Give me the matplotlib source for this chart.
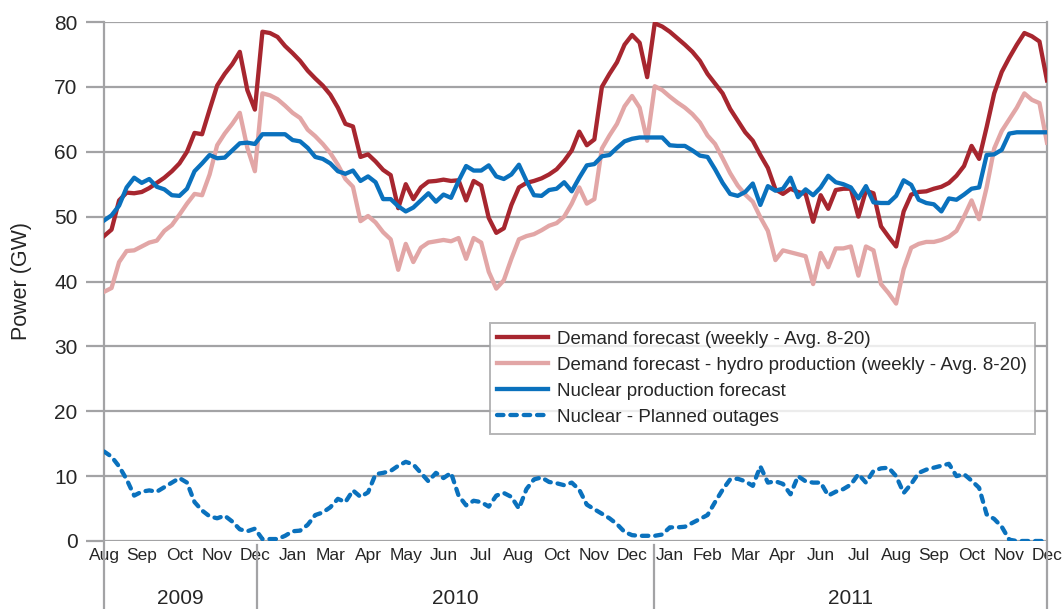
import numpy as np
import matplotlib
matplotlib.use("Agg")
import matplotlib.pyplot as plt
from matplotlib.lines import Line2D
import matplotlib.transforms as mtransforms

plt.rcParams['font.family'] = ['Liberation Sans', 'DejaVu Sans']

# weekly values, Aug 2009 -> Dec 2011 (GW)
demand = [
    47.0, 48.0, 52.5, 53.7, 53.6, 53.8, 54.4, 55.2, 56.0, 57.0,
    58.2, 60.0, 62.9, 62.7, 66.5, 70.2, 72.0, 73.5, 75.4, 69.5,
    66.5, 78.5, 78.3, 77.7, 76.3, 75.2, 74.0, 72.5, 71.3, 70.2,
    68.8, 66.8, 64.3, 63.9, 59.2, 59.6, 58.5, 57.2, 56.4, 51.3,
    55.0, 52.7, 54.5, 55.4, 55.5, 55.7, 55.5, 55.6, 52.5, 55.5,
    54.8, 49.8, 47.5, 48.2, 51.8, 54.5, 55.2, 55.5, 55.9, 56.5,
    57.3, 58.6, 60.2, 63.1, 61.0, 61.9, 70.0, 72.0, 73.8, 76.5,
    78.0, 76.8, 71.5, 79.8, 79.3, 78.5, 77.5, 76.5, 75.4, 74.0,
    72.0, 70.5, 69.0, 66.6, 64.8, 63.0, 61.7, 59.5, 57.5, 54.2,
    53.5, 54.3, 53.8, 53.5, 49.2, 53.3, 51.2, 54.1, 54.3, 54.3,
    50.0, 54.0, 53.6, 48.5, 46.9, 45.4, 50.8, 53.4, 53.8, 53.9,
    54.3, 54.6, 55.2, 56.3, 57.8, 60.9, 58.9, 63.8, 69.0, 72.3,
    74.5, 76.5, 78.3, 77.8, 77.0, 71.0,
]

demand_minus_hydro = [
    38.4, 39.0, 43.0, 44.7, 44.8, 45.4, 46.0, 46.3, 47.8, 48.7,
    50.3, 52.0, 53.5, 53.3, 56.5, 61.0, 62.8, 64.3, 66.0, 60.6,
    57.0, 69.0, 68.7, 68.1, 67.1, 66.0, 65.2, 63.4, 62.4, 61.2,
    59.8, 58.0, 55.8, 54.6, 49.3, 50.1, 49.1, 47.6, 46.5, 41.8,
    45.8, 43.0, 45.2, 46.0, 46.2, 46.4, 46.2, 46.7, 43.5, 46.7,
    46.0, 41.5, 38.9, 40.2, 43.5, 46.5, 47.0, 47.3, 47.9, 48.6,
    49.0, 50.0, 52.0, 54.5, 52.0, 52.7, 60.5, 62.5, 64.3, 67.0,
    68.6, 66.8, 61.7, 70.1, 69.5, 68.5, 67.6, 66.8, 65.8, 64.5,
    62.5, 61.2, 59.0, 56.7, 54.8, 53.4, 52.3, 49.9, 47.8, 43.3,
    44.8, 44.5, 44.2, 43.9, 39.6, 44.4, 42.2, 45.1, 45.1, 45.4,
    40.9, 45.4, 44.8, 39.6, 38.2, 36.6, 41.9, 45.2, 45.8, 46.1,
    46.1, 46.4, 46.9, 47.8, 50.0, 52.5, 49.6, 54.5, 60.5, 63.2,
    65.0, 66.8, 69.0, 68.0, 67.5, 61.4,
]

nuclear = [
    49.4, 50.2, 51.7, 54.5, 56.0, 55.2, 55.8, 54.6, 54.2, 53.3,
    53.2, 54.3, 57.0, 58.2, 59.5, 59.0, 59.1, 60.2, 61.3, 61.4,
    61.2, 62.7, 62.7, 62.7, 62.7, 61.8, 61.6, 60.6, 59.2, 58.9,
    58.2, 57.0, 56.6, 57.1, 55.5, 56.2, 55.3, 52.7, 52.7, 51.6,
    50.8, 51.4, 52.5, 53.6, 52.3, 53.4, 52.9, 55.5, 57.8, 57.1,
    57.1, 57.9, 56.2, 55.8, 56.5, 58.0, 55.5, 53.3, 53.2, 54.1,
    54.3, 55.3, 53.9, 56.0, 57.9, 58.1, 59.3, 59.5, 60.6, 61.6,
    62.0, 62.2, 62.2, 62.2, 62.2, 61.0, 60.9, 60.9, 60.2, 59.4,
    59.2, 57.3, 55.2, 53.5, 53.2, 53.8, 55.1, 51.8, 54.7, 54.0,
    54.3, 56.0, 53.0, 54.2, 53.3, 54.5, 56.3, 55.3, 55.0, 54.5,
    52.8, 54.7, 52.2, 52.1, 52.1, 53.2, 55.6, 54.9, 52.6, 52.1,
    51.9, 50.8, 52.8, 52.6, 53.4, 54.3, 54.5, 59.5, 59.6, 60.3,
    62.8, 63.0, 63.0, 63.0, 63.0, 63.0,
]

outages = [
    13.8, 13.0, 11.5, 9.5, 7.0, 7.6, 7.8, 7.6, 8.3, 9.0,
    9.7, 9.0, 6.0, 4.7, 3.8, 3.5, 3.9, 3.0, 1.8, 1.5,
    1.9, 0.3, 0.3, 0.3, 0.8, 1.5, 1.6, 2.5, 4.0, 4.4,
    5.2, 6.5, 6.0, 7.8, 6.8, 7.5, 10.3, 10.5, 10.8, 11.6,
    12.2, 11.8, 10.5, 9.2, 10.5, 9.7, 10.5, 7.0, 5.5, 6.2,
    6.0, 5.3, 7.0, 7.4, 6.8, 5.0, 8.0, 9.5, 9.8, 9.1,
    8.9, 8.6, 9.0, 7.9, 5.6, 4.9, 4.2, 3.5, 2.6, 1.4,
    0.9, 0.8, 0.8, 0.8, 1.0, 2.1, 2.1, 2.2, 2.8, 3.4,
    4.0, 6.0, 7.9, 9.5, 9.6, 9.2, 8.5, 11.5, 9.0, 9.2,
    8.8, 7.2, 10.0, 9.2, 9.0, 9.0, 7.0, 7.6, 8.0, 8.7,
    10.3, 9.0, 10.8, 11.2, 11.3, 10.0, 7.4, 8.8, 10.5, 11.0,
    11.3, 11.6, 11.9, 10.0, 10.3, 9.3, 8.2, 4.1, 3.4, 2.2,
    0.2, 0.0, 0.0, 0.0, 0.0, 0.0,
]

month_labels = ["Aug", "Sep", "Oct", "Nov", "Dec", "Jan", "Mar", "Apr", "May",
                "Jun", "Jul", "Aug", "Oct", "Nov", "Dec", "Jan", "Feb", "Mar",
                "Apr", "Jun", "Jul", "Aug", "Sep", "Oct", "Nov", "Dec"]
year_labels = ["2009", "2010", "2011"]
year_bounds = [0, 20.3, 72.9, 125]

labels = ["Demand forecast (weekly - Avg. 8-20)",
          "Demand forecast - hydro production (weekly - Avg. 8-20)",
          "Nuclear production forecast",
          "Nuclear - Planned outages"]

RED = '#A7262F'
PINK = '#E2A6A6'
BLUE = '#0A71BD'
GRID = '#A3A3A5'
TXT = '#262626'

x = np.arange(len(demand))

fig = plt.figure(figsize=(10.64, 6.09), dpi=100)
ax = fig.add_axes([104 / 1064, 68 / 609, 943 / 1064, 519 / 609])

ax.plot(x, demand, color=RED, lw=3.1, solid_joinstyle='round', label=labels[0], zorder=4)
ax.plot(x, demand_minus_hydro, color=PINK, lw=3.1, solid_joinstyle='round', label=labels[1], zorder=3)
ax.plot(x, nuclear, color=BLUE, lw=3.1, solid_joinstyle='round', label=labels[2], zorder=5)
ax.plot(x, outages, color=BLUE, lw=3.1, linestyle=(0, (1.5, 1.6)),
        dash_capstyle='round', label=labels[3], zorder=5)

ax.set_xlim(0, len(demand) - 1)
ax.set_ylim(0, 80)
for s in ax.spines.values():
    s.set_visible(False)

ax.set_yticks(range(0, 81, 10))
ax.yaxis.grid(True, color=GRID, lw=1.6)
ax.set_axisbelow(True)
ax.tick_params(axis='y', length=13, width=1.6, color=GRID, pad=6,
               labelsize=15, labelcolor=TXT)

ax.set_xticks(np.arange(0, len(demand), 5))
ax.set_xticklabels(month_labels)
ax.tick_params(axis='x', length=0, pad=5, labelsize=12.5, labelcolor=TXT)

ax.set_ylabel('Power (GW)', fontsize=15.5, color=TXT, labelpad=16)

# vertical frame / year separators reaching below the axis
trans = mtransforms.blended_transform_factory(ax.transData, ax.transAxes)
low = -68 / 519
for i, b in enumerate(year_bounds):
    top = 1.0 if i in (0, len(year_bounds) - 1) else -0.008
    ax.add_line(Line2D([b, b], [low, top], transform=trans, color=GRID,
                       lw=1.6, clip_on=False, zorder=1))
for i, yr in enumerate(year_labels):
    ax.text((year_bounds[i] + year_bounds[i + 1]) / 2, -0.11, yr, transform=trans,
            ha='center', va='center', fontsize=15, color=TXT)

leg = ax.legend(loc='upper left', bbox_to_anchor=(0.409, 0.42), borderaxespad=0,
                fontsize=13.5, frameon=True, fancybox=False, handlelength=2.7,
                handletextpad=0.5, borderpad=0.4, labelspacing=0.48)
leg.get_frame().set_edgecolor(GRID)
leg.get_frame().set_linewidth(1.4)
leg.set_zorder(10)
for t in leg.get_texts():
    t.set_color(TXT)

fig.savefig('out.png', dpi=100)
